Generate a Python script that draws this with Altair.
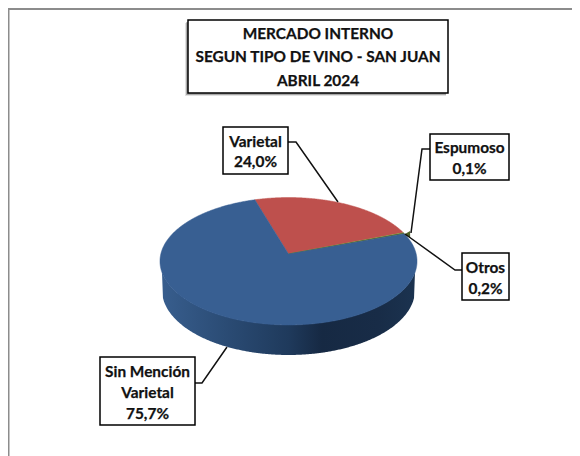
import math
import altair as alt
import pandas as pd

# Values
slices = ["Varietal", "Espumoso", "Otros", "Sin Mención Varietal"]
shares = [24.0, 0.1, 0.2, 75.7]
slice_colors = ["#BE504D", "#9BBB59", "#4F6228", "#385F92"]
title_lines = ["MERCADO INTERNO", "SEGUN TIPO DE VINO - SAN JUAN", "ABRIL 2024"]
label_lines = [["Varietal", "24,0%"], ["Espumoso", "0,1%"], ["Otros", "0,2%"],
               ["Sin Mención", "Varietal", "75,7%"]]

# Layout, in page pixels
W, H = 564, 448
APEX_X, APEX_Y = 288.5, 254.0
A, B, K = 62.9, 127.7, 0.1137       # tilt of the pie
ROTATION = -17.0
RX, CY, RY = 128.5, 261.0, 63.5      # outline of the top face
RX2, CY2, RY2 = 126.5, 290.0, 65.0   # outline of the base


def rim(theta_deg):
    t = math.radians(theta_deg)
    u, v = math.sin(t), math.cos(t)
    w = 1 + K * v
    return [APEX_X + B * u / w, APEX_Y - A * v / w]


features = []
tips = []
start = ROTATION
for name, share, color in zip(slices, shares, slice_colors):
    sweep = share * 3.6
    n = max(2, int(sweep * 2))
    ring = [[APEX_X, APEX_Y]] + [rim(start + sweep * i / n) for i in range(n + 1)] + [[APEX_X, APEX_Y]]
    features.append({"type": "Feature", "properties": {"name": name, "color": color},
                     "geometry": {"type": "Polygon", "coordinates": [ring]}})
    if name == "Otros":
        px, py = rim(start + sweep / 2)
        tips.append({"x": px, "y": py})
    start += sweep

xs = alt.Scale(domain=[8, 8 + W], range=[0, W])
ys = alt.Scale(domain=[8, 8 + H], range=[0, H])
X = lambda f="x": alt.X(f"{f}:Q", scale=xs, axis=None)
Y = lambda f="y": alt.Y(f"{f}:Q", scale=ys, axis=None)

# Side wall
wall = []
steps = 260
for i in range(steps + 1):
    x = APEX_X - RX + 2 * RX * i / steps
    dx = x - APEX_X
    top = CY + RY * math.sqrt(max(0, 1 - (dx / RX) ** 2))
    base = CY2 + RY2 * math.sqrt(1 - (dx / RX2) ** 2) if abs(dx) <= RX2 else top
    wall.append({"x": x, "y": top, "y2": max(top, base)})

wall_layer = alt.Chart(pd.DataFrame(wall)).mark_area(
    color=alt.Gradient(gradient="linear", x1=0, x2=1, y1=0, y2=0, stops=[
        alt.GradientStop(offset=0, color="#385E8E"),
        alt.GradientStop(offset=0.25, color="#2B4C75"),
        alt.GradientStop(offset=0.5, color="#1F3A5C"),
        alt.GradientStop(offset=0.63, color="#162943"),
        alt.GradientStop(offset=0.85, color="#182C47"),
        alt.GradientStop(offset=1, color="#1B3350"),
    ]), interpolate="linear"
).encode(x=X(), y=Y(), y2="y2:Q")

faces = alt.Chart(alt.Data(values=features)).mark_geoshape(strokeWidth=0.5).encode(
    fill=alt.Fill("properties.color:N", scale=None),
    stroke=alt.Stroke("properties.color:N", scale=None),
).project(type="identity", scale=1, translate=[-8, -8])

tip_layer = alt.Chart(pd.DataFrame(tips)).mark_point(
    shape="triangle-left", filled=True, size=48, color="#4F6228", opacity=1, xOffset=3, yOffset=1
).encode(x=X(), y=Y())

# Frame (top and left only are visible)
frame = pd.DataFrame([
    {"x": 8, "x2": 8 + W, "y": 9, "y2": 9},
    {"x": 8.5, "x2": 8.5, "y": 8, "y2": 8 + H},
])
frame_layer = alt.Chart(frame).mark_rule(color="#8C8C8C", strokeWidth=2).encode(
    x=X(), x2="x2:Q", y=Y(), y2="y2:Q")

# Leader lines
leaders = pd.DataFrame([
    {"g": 0, "o": 0, "x": 288, "y": 142}, {"g": 0, "o": 1, "x": 296, "y": 142}, {"g": 0, "o": 2, "x": 338, "y": 202},
    {"g": 1, "o": 0, "x": 430, "y": 149}, {"g": 1, "o": 1, "x": 422, "y": 149}, {"g": 1, "o": 2, "x": 411, "y": 233},
    {"g": 2, "o": 0, "x": 462, "y": 270}, {"g": 2, "o": 1, "x": 455, "y": 270}, {"g": 2, "o": 2, "x": 405, "y": 234},
    {"g": 3, "o": 0, "x": 195, "y": 383}, {"g": 3, "o": 1, "x": 202, "y": 383}, {"g": 3, "o": 2, "x": 227, "y": 347},
])
leader_layer = alt.Chart(leaders).mark_line(color="#111111", strokeWidth=1.5).encode(
    x=X(), y=Y(), detail="g:N", order="o:Q")

# Boxes
boxes = pd.DataFrame([
    {"x": 188, "x2": 448, "y": 20, "y2": 93},
    {"x": 223, "x2": 288, "y": 127, "y2": 174},
    {"x": 430, "x2": 509, "y": 134, "y2": 180},
    {"x": 462, "x2": 509, "y": 253, "y2": 300},
    {"x": 100, "x2": 195, "y": 357, "y2": 425},
])
shadow1 = alt.Chart(pd.DataFrame([{"x": 185, "x2": 446, "y": 23, "y2": 96}])).mark_rect(
    color="#000000", opacity=0.12).encode(x=X(), x2="x2:Q", y=Y(), y2="y2:Q")
shadow2 = alt.Chart(pd.DataFrame([{"x": 186, "x2": 446, "y": 22, "y2": 95}])).mark_rect(
    color="#000000", opacity=0.25).encode(x=X(), x2="x2:Q", y=Y(), y2="y2:Q")
box_layer = alt.Chart(boxes).mark_rect(fill="#FFFFFF", stroke="#000000", strokeWidth=1.5).encode(
    x=X(), x2="x2:Q", y=Y(), y2="y2:Q")

# Text
text_rows = []
for line, y in zip(title_lines, [33.5, 57, 81]):
    text_rows.append({"x": 318, "y": y, "t": line})
centres = [(255.5, [141.5, 162]), (469.5, [148, 169]), (485.5, [268, 289]), (147.5, [372, 392.5, 414])]
for lines, (cx, yy) in zip(label_lines, centres):
    for line, y in zip(lines, yy):
        text_rows.append({"x": cx, "y": y, "t": line})
text_layer = alt.Chart(pd.DataFrame(text_rows)).mark_text(
    font="Lato", fontWeight="bold", fontSize=15.4, color="#111111", stroke="#111111", strokeWidth=0.25,
    align="center", baseline="middle"
).encode(x=X(), y=Y(), text="t:N")

chart = alt.layer(
    frame_layer, wall_layer, faces, tip_layer, leader_layer, shadow1, shadow2, box_layer, text_layer
).properties(
    width=W, height=H, padding=0, background="#FFFFFF",
    autosize=alt.AutoSizeParams(type="none"),
).configure_view(stroke=None)

chart.save("out.html", embed_options={"renderer": "svg", "actions": False})
